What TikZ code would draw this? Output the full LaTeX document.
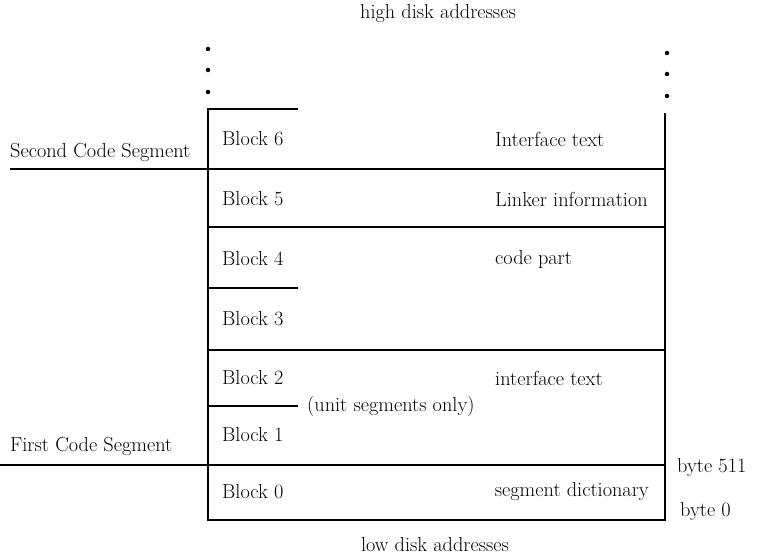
\documentclass[tikz,border=0pt]{standalone}
\usepackage{fontspec}
\begin{document}
\begin{tikzpicture}[x=1pt,y=-1pt,
  lbl/.style={font=\fontsize{20.3}{24}\selectfont, inner sep=0pt},
  thin line/.style={line width=1.4pt},
  thick line/.style={line width=2.3pt},
  dot/.style={circle, fill, inner sep=0pt, minimum size=4.5pt}]
\useasboundingbox (0,0) rectangle (759,556);
% dots
\foreach \y [count=\i] in {49,70,92} \node[dot] (ld\i) at (208,\y) {};
\foreach \y [count=\i] in {53,74,96} \node[dot] (rd\i) at (667,\y) {};
% frame
\draw[thin line] (298,109) -- (208,109) -- (208,520) -- (665,520) -- (665,113);
\draw[thick line] (10,169) -- (665,169);
\draw[thin line] (208,227) -- (665,227);
\draw[thin line] (208,288) -- (298,288);
\draw[thin line] (208,350) -- (665,350);
\draw[thin line] (208,406) -- (298,406);
\draw[thick line] (0,465) -- (665,465);
% labels
\node[lbl] (high) at (438,14) {high disk addresses};
\node[lbl] (low) at (435,545) {low disk addresses};
\node[lbl, anchor=west] (second) at (10,152) {Second Code Segment};
\node[lbl, anchor=west] (first) at (10,446) {First Code Segment};
\node[lbl, anchor=west] (b6) at (222,139) {Block 6};
\node[lbl, anchor=west] (b5) at (222,199) {Block 5};
\node[lbl, anchor=west] (b4) at (222,259) {Block 4};
\node[lbl, anchor=west] (b3) at (222,319) {Block 3};
\node[lbl, anchor=west] (b2) at (222,378) {Block 2};
\node[lbl, anchor=west] (b1) at (222,435) {Block 1};
\node[lbl, anchor=west] (b0) at (222,492) {Block 0};
\node[lbl, anchor=west] (t6) at (495,139) {Interface text};
\node[lbl, anchor=west] (t5) at (495,199) {Linker information};
\node[lbl, anchor=west] (t4) at (495,259) {code part};
\node[lbl, anchor=west] (t2) at (495,378) {interface text};
\node[lbl, anchor=east] (t0) at (649,492) {segment dictionary};
\node[lbl, anchor=west] (unit) at (307,406) {(unit segments only)};
\node[lbl, anchor=west] (byte511) at (677,468) {byte 511};
\node[lbl, anchor=west] (byte0) at (680,512) {byte 0};
\end{tikzpicture}
\end{document}
